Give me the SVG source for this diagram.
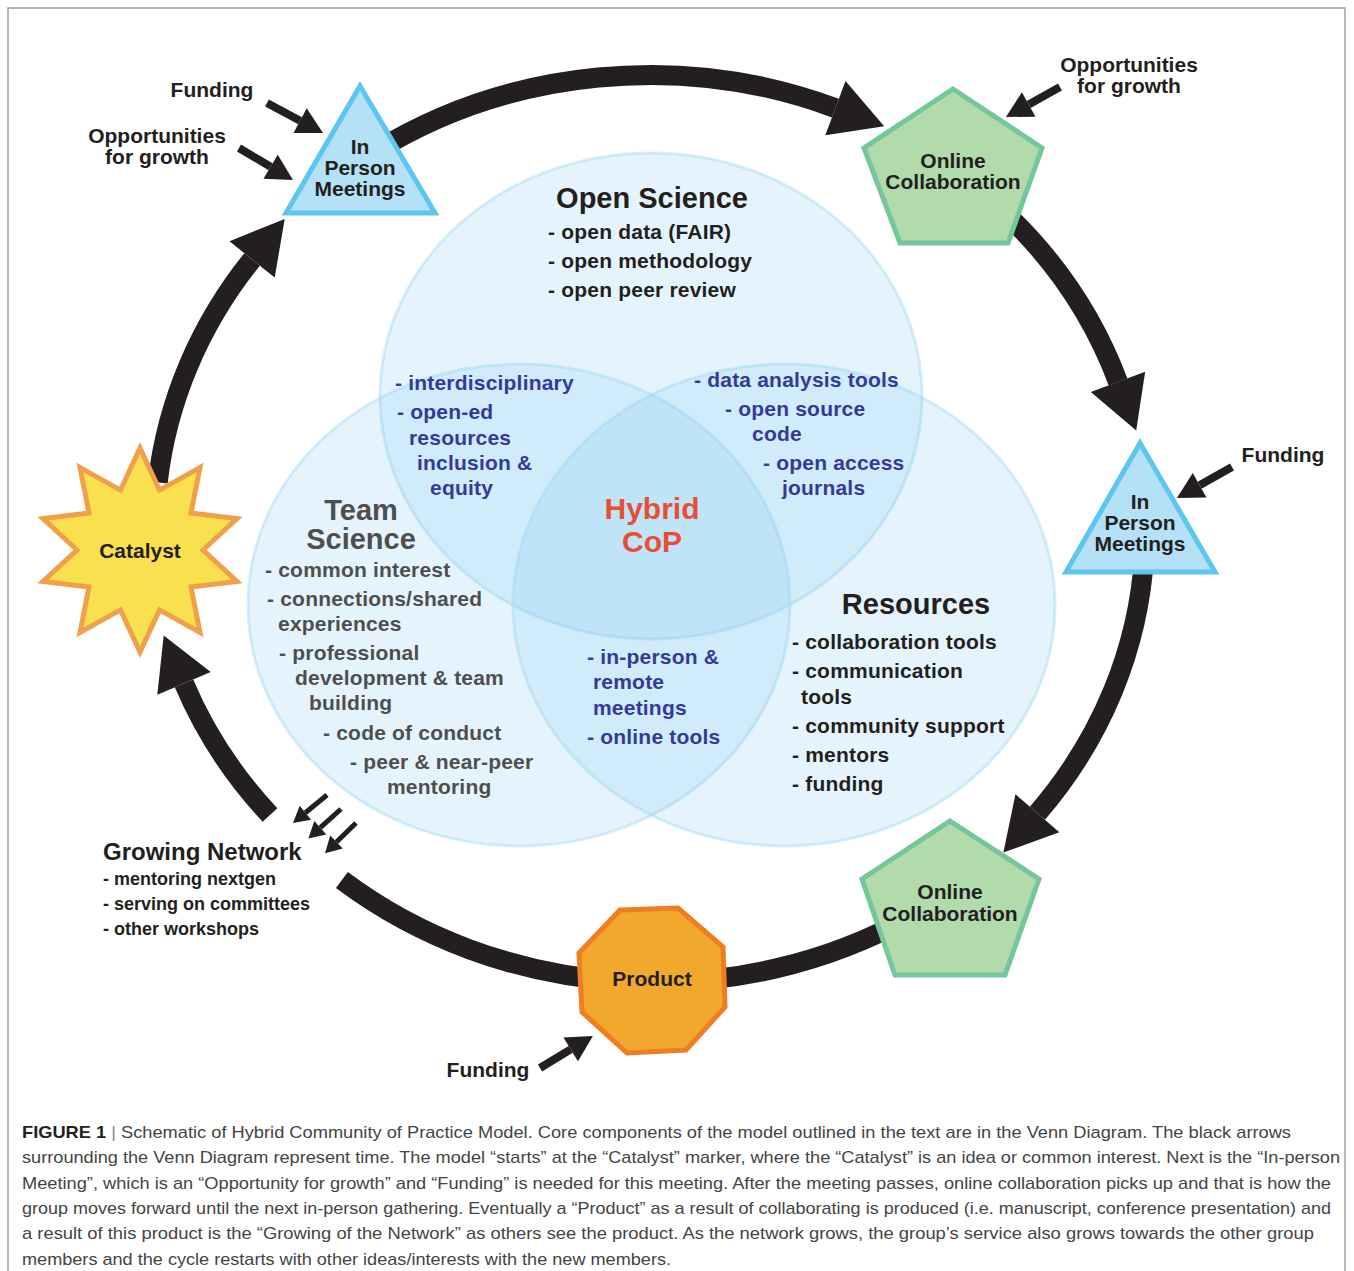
<svg xmlns="http://www.w3.org/2000/svg" width="1354" height="1271" viewBox="0 0 1354 1271">
<defs>
<style>
.t{font-family:"Liberation Sans",Arial,Helvetica,sans-serif;font-weight:bold;}
.lbl{font-size:21px;fill:#231f20;text-anchor:middle;}
.venn{fill:#7ccaf0;fill-opacity:0.2;stroke:#9ad5f2;stroke-opacity:0.4;stroke-width:3;}
.hd{font-size:29px;}
.li{font-size:21px;letter-spacing:0.2px;}
.dk{fill:#231f20;}
.gr{fill:#4e4e50;}
.bl{fill:#35399a;}
.cycle{fill:none;stroke:#231f20;stroke-width:20;stroke-linecap:butt;}
.sm{fill:none;stroke:#231f20;stroke-width:8;}
.xs{fill:none;stroke:#231f20;stroke-width:5;}
.tri{fill:#b4e1f6;stroke:#5cc6f0;stroke-width:5;}
.pent{fill:#b1dbaa;stroke:#74c69b;stroke-width:5;}
.cap{font-family:"Liberation Sans",Arial,Helvetica,sans-serif;font-size:17px;fill:#444;}
</style>
<marker id="big" markerUnits="userSpaceOnUse" markerWidth="60" markerHeight="70" refX="0" refY="30" orient="auto" overflow="visible">
<path d="M0,1 L52,30 L0,59 Z" fill="#231f20"/>
</marker>
<marker id="small" markerUnits="userSpaceOnUse" markerWidth="30" markerHeight="30" refX="0" refY="15" orient="auto" overflow="visible">
<path d="M0,1 L26,15 L0,29 Z" fill="#231f20"/>
</marker>
<marker id="tiny" markerUnits="userSpaceOnUse" markerWidth="20" markerHeight="20" refX="0" refY="9" orient="auto" overflow="visible">
<path d="M0,0 L16,9 L0,18 Z" fill="#231f20"/>
</marker>
</defs>
<rect x="0" y="0" width="1354" height="1271" fill="#ffffff"/>
<rect x="8" y="8" width="1337" height="1300" fill="none" stroke="#a0a0a0" stroke-width="1.5"/>

<g id="venn">
<ellipse class="venn" cx="651" cy="396" rx="271" ry="243"/>
<ellipse class="venn" cx="519" cy="605" rx="271" ry="241"/>
<ellipse class="venn" cx="784" cy="605" rx="271" ry="241"/>
</g>

<g id="open-science" class="t">
<text class="hd dk" x="652" y="208" text-anchor="middle">Open Science</text>
<text class="li dk" x="548" y="239">- open data (FAIR)</text>
<text class="li dk" x="548" y="268">- open methodology</text>
<text class="li dk" x="548" y="297">- open peer review</text>
</g>
<g id="open-team-overlap" class="t">
<text class="li bl" x="395" y="390">- interdisciplinary</text>
<text class="li bl" x="397" y="419">- open-ed</text>
<text class="li bl" x="409" y="445">resources</text>
<text class="li bl" x="417" y="470">inclusion &amp;</text>
<text class="li bl" x="430" y="495">equity</text>
</g>
<g id="open-resources-overlap" class="t">
<text class="li bl" x="694" y="387">- data analysis tools</text>
<text class="li bl" x="725" y="416">- open source</text>
<text class="li bl" x="752" y="441">code</text>
<text class="li bl" x="763" y="470">- open access</text>
<text class="li bl" x="782" y="495">journals</text>
</g>
<g id="hybrid-cop" class="t">
<text x="652" y="519" text-anchor="middle" font-size="30" fill="#e84e36">Hybrid</text>
<text x="652" y="552" text-anchor="middle" font-size="30" fill="#e84e36">CoP</text>
</g>
<g id="team-science" class="t">
<text class="hd gr" x="361" y="520" text-anchor="middle">Team</text>
<text class="hd gr" x="361" y="549" text-anchor="middle">Science</text>
<text class="li gr" x="265" y="577">- common interest</text>
<text class="li gr" x="267" y="606">- connections/shared</text>
<text class="li gr" x="278" y="631">experiences</text>
<text class="li gr" x="279" y="660">- professional</text>
<text class="li gr" x="295" y="685">development &amp; team</text>
<text class="li gr" x="309" y="710">building</text>
<text class="li gr" x="323" y="740">- code of conduct</text>
<text class="li gr" x="350" y="769">- peer &amp; near-peer</text>
<text class="li gr" x="387" y="794">mentoring</text>
</g>
<g id="team-resources-overlap" class="t">
<text class="li bl" x="587" y="664">- in-person &amp;</text>
<text class="li bl" x="593" y="689">remote</text>
<text class="li bl" x="593" y="715">meetings</text>
<text class="li bl" x="587" y="744">- online tools</text>
</g>
<g id="resources" class="t">
<text class="hd dk" x="916" y="614" text-anchor="middle">Resources</text>
<text class="li dk" x="792" y="649">- collaboration tools</text>
<text class="li dk" x="792" y="678">- communication</text>
<text class="li dk" x="801" y="704">tools</text>
<text class="li dk" x="792" y="733">- community support</text>
<text class="li dk" x="792" y="762">- mentors</text>
<text class="li dk" x="792" y="791">- funding</text>
</g>

<g id="connectors">
<path class="cycle" d="M157.7,482.4 A495,455 0 0,1 252.1,259.4" marker-end="url(#big)"/>
<path class="cycle" d="M373.2,152.8 A495,455 0 0,1 835.4,108.1" marker-end="url(#big)"/>
<path class="cycle" d="M1006.1,213.9 A495,455 0 0,1 1118.0,381.9" marker-end="url(#big)"/>
<path class="cycle" d="M1144.3,553.8 A495,455 0 0,1 1037.4,813.2" marker-end="url(#big)"/>
<path class="cycle" d="M912.3,915.9 A495,455 0 0,1 341.9,880"/>
<path class="cycle" d="M270,815 A495,455 0 0,1 184.0,683.4" marker-end="url(#big)"/>
<line class="sm" x1="267" y1="103" x2="300.1" y2="120.7" marker-end="url(#small)"/>
<line class="sm" x1="239" y1="148" x2="270.6" y2="166.7" marker-end="url(#small)"/>
<line class="sm" x1="1060" y1="87" x2="1028.7" y2="104.4" marker-end="url(#small)"/>
<line class="sm" x1="1232" y1="467" x2="1199.6" y2="485.2" marker-end="url(#small)"/>
<line class="sm" x1="540" y1="1068" x2="570.7" y2="1049.4" marker-end="url(#small)"/>
<line class="xs" x1="327" y1="795" x2="305.4" y2="812.8" marker-end="url(#tiny)"/>
<line class="xs" x1="341" y1="809" x2="320.3" y2="827.7" marker-end="url(#tiny)"/>
<line class="xs" x1="356" y1="823" x2="336.5" y2="842" marker-end="url(#tiny)"/>
</g>

<g id="catalyst">
<polygon points="140,448 159.5,490.1 200,467.5 191,513 237,518.5 203,550 237,581.5 191,587 200,632.5 159.5,609.9 140,652 120.5,609.9 80,632.5 89,587 43,581.5 77,550 43,518.5 89,513 80,467.5 120.5,490.1" fill="#f8e04e" stroke="#f0a04a" stroke-width="5" stroke-linejoin="miter"/>
<text class="t lbl" x="140" y="558">Catalyst</text>
</g>
<g id="inperson-1">
<polygon class="tri" points="360,86 435,213 286,213"/>
<text class="t lbl" x="360" y="154">In</text>
<text class="t lbl" x="360" y="175">Person</text>
<text class="t lbl" x="360" y="196">Meetings</text>
</g>
<g id="online-1">
<polygon class="pent" points="953,89 1042,148 1008,243 900,243 864,148"/>
<text class="t lbl" x="953" y="168">Online</text>
<text class="t lbl" x="953" y="189">Collaboration</text>
</g>
<g id="inperson-2">
<polygon class="tri" points="1140,443 1215,572 1066,572"/>
<text class="t lbl" x="1140" y="509">In</text>
<text class="t lbl" x="1140" y="530">Person</text>
<text class="t lbl" x="1140" y="551">Meetings</text>
</g>
<g id="online-2">
<polygon class="pent" points="950,821 1039,879 1005,975 895,975 862,879"/>
<text class="t lbl" x="950" y="899">Online</text>
<text class="t lbl" x="950" y="921">Collaboration</text>
</g>
<g id="product">
<polygon points="620,910 678,908 723,947 725,1007 686,1050 627,1053 582,1012 579,953" fill="#f2a82c" stroke="#ee7e22" stroke-width="5"/>
<text class="t lbl" x="652" y="986">Product</text>
</g>

<g id="labels" class="t">
<text class="lbl" x="212" y="97">Funding</text>
<text class="lbl" x="157" y="143">Opportunities</text>
<text class="lbl" x="157" y="164">for growth</text>
<text class="lbl" x="1129" y="72">Opportunities</text>
<text class="lbl" x="1129" y="93">for growth</text>
<text class="lbl" x="1283" y="462">Funding</text>
<text class="lbl" x="488" y="1077">Funding</text>
</g>
<g id="growing-network" class="t">
<text x="103" y="860" font-size="24" fill="#231f20">Growing Network</text>
<text x="103" y="885" font-size="18" fill="#231f20">- mentoring nextgen</text>
<text x="103" y="910" font-size="18" fill="#231f20">- serving on committees</text>
<text x="103" y="935" font-size="18" fill="#231f20">- other workshops</text>
</g>

<g id="caption" class="cap">
<text x="22" y="1138" textLength="1269" lengthAdjust="spacingAndGlyphs"><tspan font-weight="bold" fill="#231f20">FIGURE 1</tspan><tspan fill="#888"> | </tspan>Schematic of Hybrid Community of Practice Model. Core components of the model outlined in the text are in the Venn Diagram. The black arrows</text>
<text x="22" y="1163" textLength="1318" lengthAdjust="spacingAndGlyphs">surrounding the Venn Diagram represent time. The model “starts” at the “Catalyst” marker, where the “Catalyst” is an idea or common interest. Next is the “In-person</text>
<text x="22" y="1189" textLength="1309" lengthAdjust="spacingAndGlyphs">Meeting”, which is an “Opportunity for growth” and “Funding” is needed for this meeting. After the meeting passes, online collaboration picks up and that is how the</text>
<text x="22" y="1214" textLength="1309" lengthAdjust="spacingAndGlyphs">group moves forward until the next in-person gathering. Eventually a “Product” as a result of collaborating is produced (i.e. manuscript, conference presentation) and</text>
<text x="22" y="1239" textLength="1292" lengthAdjust="spacingAndGlyphs">a result of this product is the “Growing of the Network” as others see the product. As the network grows, the group’s service also grows towards the other group</text>
<text x="22" y="1265" textLength="649" lengthAdjust="spacingAndGlyphs">members and the cycle restarts with other ideas/interests with the new members.</text>
</g>
</svg>
